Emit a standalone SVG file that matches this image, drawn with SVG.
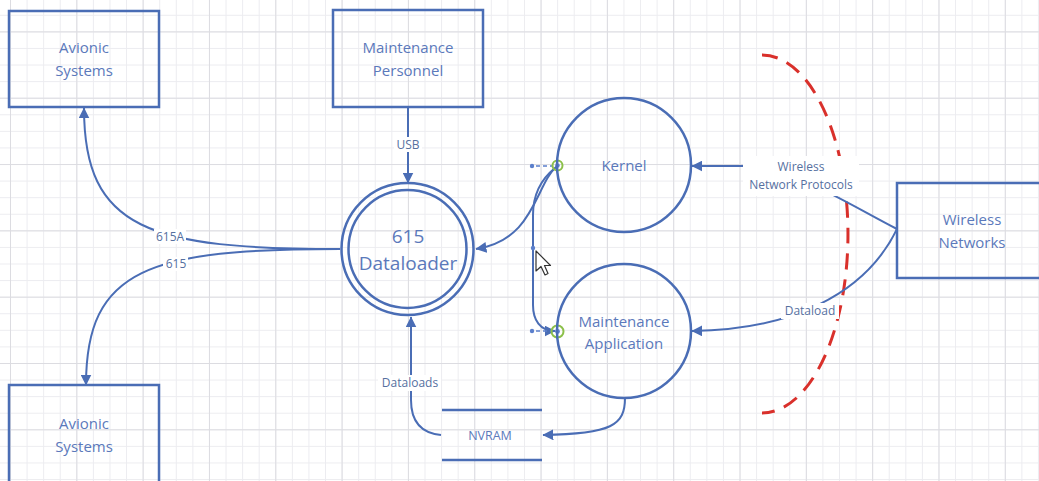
<svg xmlns="http://www.w3.org/2000/svg" width="1039" height="481" viewBox="0 0 1039 481">
  <defs>
    <pattern id="gMinor" patternUnits="userSpaceOnUse" x="10" y="14.8" width="16.58" height="16.58">
      <rect x="0" y="0" width="16.58" height="1" fill="#ececf0"/>
      <rect x="0" y="0" width="1" height="16.58" fill="#ececf0"/>
    </pattern>
    <pattern id="gMajor" patternUnits="userSpaceOnUse" x="10" y="31.4" width="66.32" height="66.32">
      <rect x="0" y="0" width="66.32" height="1" fill="#dcdce1"/>
      <rect x="0" y="0" width="1" height="66.32" fill="#dcdce1"/>
    </pattern>
    <marker id="arr" viewBox="0 0 10 10" refX="9.5" refY="5" markerWidth="11" markerHeight="11" markerUnits="userSpaceOnUse" orient="auto">
      <path d="M0,0 L10,5 L0,10 z" fill="#4a6db5"/>
    </marker>
    <style>
      .shape { fill: none; stroke: #4a6db5; stroke-width: 2.5; }
      .ntext { font-family: "Open Sans", "Liberation Sans", sans-serif; font-size: 15px; fill: #5b79bb; text-anchor: middle; }
      .big { font-size: 19px; }
      .conn { fill: none; stroke: #4a6db5; stroke-width: 2; }
      .ltext { font-family: "Open Sans", "Liberation Sans", sans-serif; font-size: 12px; fill: #56709f; text-anchor: middle; }
      .lbg { fill: #ffffff; }
      .dot { fill: #5b7fcc; }
      .ring { fill: none; stroke: #8cc04a; stroke-width: 2; }
    </style>
  </defs>

  <rect x="0" y="0" width="1039" height="481" fill="#ffffff"/>
  <rect x="0" y="0" width="1039" height="481" fill="url(#gMinor)"/>
  <rect x="0" y="0" width="1039" height="481" fill="url(#gMajor)"/>

  <!-- red dashed boundary -->
  <path d="M 762 55 A 86 179 0 0 1 762 413" fill="none" stroke="#d9302b" stroke-width="3" stroke-dasharray="16 10"/>

  <!-- connectors -->
  <g id="connectors">
    <path class="conn" d="M 340 249 C 150 249, 84 230, 84 108" marker-end="url(#arr)"/>
    <path class="conn" d="M 340 249 C 150 249, 86 268, 86 385" marker-end="url(#arr)"/>
    <path class="conn" d="M 408 107 L 408 183" marker-end="url(#arr)"/>
    <path class="conn" d="M 557 166 C 535 185, 535 240, 476 249" marker-end="url(#arr)"/>
    <path class="conn" d="M 555 168 C 540 180, 533 195, 533 215 L 533 305 C 533 320, 540 331, 555 331" marker-end="url(#arr)"/>
    <path class="conn" d="M 897 229 C 850 205, 790 166, 745 166 L 692 166" marker-end="url(#arr)"/>
    <path class="conn" d="M 897 229 C 865 295, 790 330, 692 331" marker-end="url(#arr)"/>
    <path class="conn" d="M 441 435 C 420 433, 411 420, 411 400 L 411 317" marker-end="url(#arr)"/>
    <path class="conn" d="M 625 398 C 625 425, 612 434, 543 435" marker-end="url(#arr)"/>

    <!-- labels -->
    <rect class="lbg" x="154" y="229" width="32" height="15"/>
    <text class="ltext" x="170" y="241">615A</text>
    <rect class="lbg" x="163" y="257" width="25" height="14"/>
    <text class="ltext" x="176" y="268">615</text>
    <rect class="lbg" x="394" y="137" width="28" height="15"/>
    <text class="ltext" x="408" y="149">USB</text>
    <rect class="lbg" x="743" y="156" width="116" height="40"/>
    <text class="ltext" x="801" y="171">Wireless</text>
    <text class="ltext" x="801" y="189">Network Protocols</text>
    <rect class="lbg" x="781" y="303" width="58" height="16"/>
    <text class="ltext" x="810" y="315">Dataload</text>
    <rect class="lbg" x="378" y="375" width="63" height="16"/>
    <text class="ltext" x="410" y="387">Dataloads</text>

    <!-- connection handles -->
    <line x1="536" y1="166" x2="552" y2="166" stroke="#5b7fcc" stroke-width="1.5" stroke-dasharray="4 3"/>
    <line x1="536" y1="331" x2="552" y2="331" stroke="#5b7fcc" stroke-width="1.5" stroke-dasharray="4 3"/>
    <circle class="dot" cx="532" cy="166" r="2.2"/>
    <circle class="dot" cx="532" cy="331" r="2.2"/>
    <circle class="dot" cx="533" cy="248" r="2.2"/>
    <circle class="ring" cx="557.5" cy="165.5" r="5"/>
    <circle class="dot" cx="557.5" cy="165.5" r="2.2"/>
    <circle class="ring" cx="557.5" cy="331.5" r="6"/>
    <circle class="dot" cx="557.5" cy="331.5" r="2.4"/>
  </g>

  <!-- nodes -->
  <g id="avionic-top">
    <rect class="shape" x="9" y="11" width="150" height="96"/>
    <text class="ntext" x="84" y="53">Avionic</text>
    <text class="ntext" x="84" y="76">Systems</text>
  </g>
  <g id="maintenance-personnel">
    <rect class="shape" x="333" y="10" width="150" height="97"/>
    <text class="ntext" x="408" y="53">Maintenance</text>
    <text class="ntext" x="408" y="76">Personnel</text>
  </g>
  <g id="avionic-bottom">
    <rect class="shape" x="9" y="385" width="150" height="110"/>
    <text class="ntext" x="84" y="429">Avionic</text>
    <text class="ntext" x="84" y="452">Systems</text>
  </g>
  <g id="dataloader">
    <circle class="shape" cx="407.5" cy="249" r="66"/>
    <circle class="shape" cx="407.5" cy="249" r="59"/>
    <text class="ntext big" x="408" y="243">615</text>
    <text class="ntext big" x="408" y="270">Dataloader</text>
  </g>
  <g id="kernel">
    <circle class="shape" cx="624" cy="165" r="67"/>
    <text class="ntext" x="624" y="171">Kernel</text>
  </g>
  <g id="maintenance-application">
    <circle class="shape" cx="624" cy="331" r="67"/>
    <text class="ntext" x="624" y="327">Maintenance</text>
    <text class="ntext" x="624" y="349">Application</text>
  </g>
  <g id="wireless-networks">
    <rect class="shape" x="897" y="183" width="150" height="95"/>
    <text class="ntext" x="972" y="225">Wireless</text>
    <text class="ntext" x="972" y="248">Networks</text>
  </g>
  <g id="nvram">
    <line x1="442" y1="410" x2="542" y2="410" stroke="#4a6db5" stroke-width="2.5"/>
    <line x1="442" y1="460" x2="542" y2="460" stroke="#4a6db5" stroke-width="2.5"/>
    <text class="ltext" x="490" y="440" style="font-size:12.5px;fill:#5b79bb">NVRAM</text>
  </g>

  <!-- mouse cursor -->
  <polygon points="536,251 536,271 541,266.5 545,275 548,273.5 544.5,265.5 550.5,265.5" fill="#ffffff" stroke="#333333" stroke-width="1.2" stroke-linejoin="round"/>
</svg>
